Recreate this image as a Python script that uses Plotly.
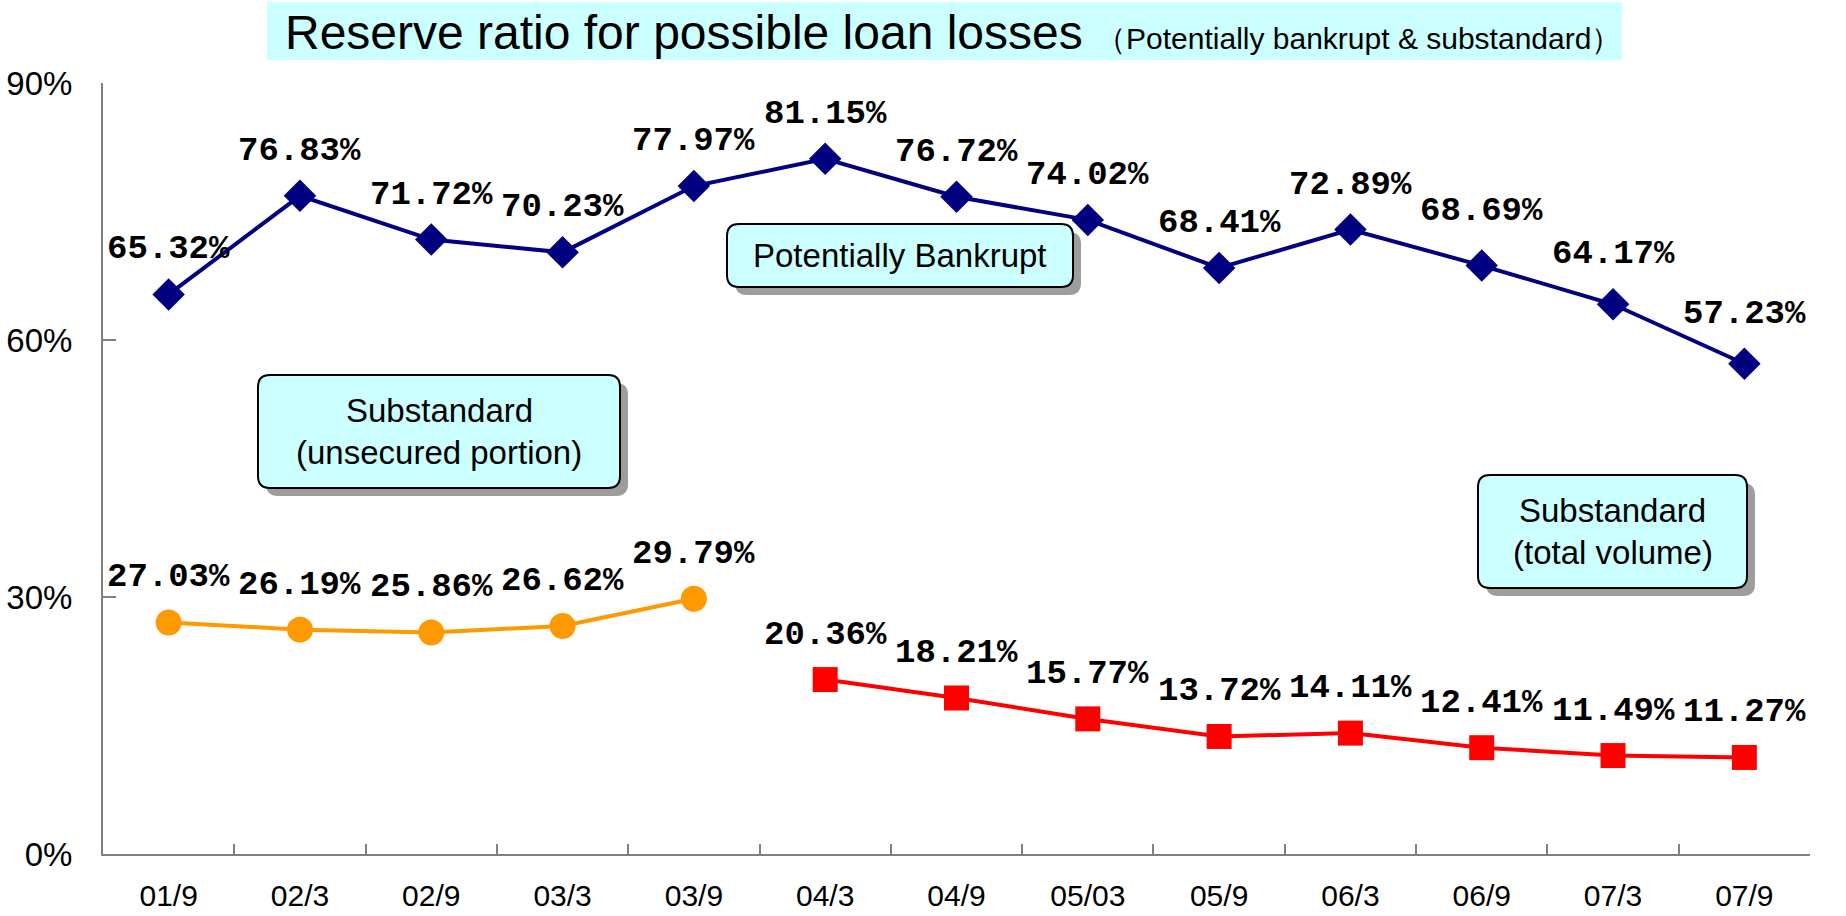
import plotly.graph_objects as go

# Half-year periods
periods = ["01/9", "02/3", "02/9", "03/3", "03/9", "04/3", "04/9",
           "05/03", "05/9", "06/3", "06/9", "07/3", "07/9"]

# Reserve ratios (%)
bankrupt = [65.32, 76.83, 71.72, 70.23, 77.97, 81.15, 76.72,
            74.02, 68.41, 72.89, 68.69, 64.17, 57.23]
sub_unsecured = [27.03, 26.19, 25.86, 26.62, 29.79]          # 01/9 - 03/9
sub_total = [20.36, 18.21, 15.77, 13.72, 14.11, 12.41, 11.49, 11.27]  # 04/3 - 07/9

y_ticks = [0, 30, 60, 90]
y_ticklabels = ["0%", "30%", "60%", "90%"]

W, H = 1846, 916
L, R, T, B = 103, 36, 83, 62
PW, PH = W - L - R, H - T - B

NAVY = "#000080"
ORANGE = "#FF9900"
RED = "#FF0000"
CYAN = "#CCFFFF"
AXIS = "#808080"

LABEL_FONT = dict(family="Liberation Mono, DejaVu Sans Mono", size=34,
                  color="black", weight="bold")
TICK_FONT = dict(family="Liberation Sans, Arial", size=33, color="black")
BOX_FONT = dict(family="Liberation Sans, Arial", size=33, color="black")


def px(x):
    return (x - L) / PW


def py(y):
    return (H - B - y) / PH


def rounded_path(x0, y0, x1, y1, r=12):
    """Rounded rectangle path in paper units from pixel corners."""
    a, b, c, d = px(x0), px(x1), py(y0), py(y1)
    rx, ry = r / PW, r / PH
    return (f"M {a + rx},{c} L {b - rx},{c} Q {b},{c} {b},{c - ry} "
            f"L {b},{d + ry} Q {b},{d} {b - rx},{d} "
            f"L {a + rx},{d} Q {a},{d} {a},{d + ry} "
            f"L {a},{c - ry} Q {a},{c} {a + rx},{c} Z")


fig = go.Figure()

fig.add_trace(go.Scatter(
    x=periods, y=bankrupt, mode="lines+markers", name="Potentially Bankrupt",
    line=dict(color=NAVY, width=4),
    marker=dict(symbol="diamond", size=25, color=NAVY),
))
fig.add_trace(go.Scatter(
    x=periods[:len(sub_unsecured)], y=sub_unsecured, mode="lines+markers",
    name="Substandard (unsecured portion)",
    line=dict(color=ORANGE, width=4),
    marker=dict(symbol="circle", size=26, color=ORANGE),
))
fig.add_trace(go.Scatter(
    x=periods[len(periods) - len(sub_total):], y=sub_total, mode="lines+markers",
    name="Substandard (total volume)",
    line=dict(color=RED, width=4),
    marker=dict(symbol="square", size=25, color=RED),
))

annotations = []
shift_default = 45
label_shift = {("b", 10): 55, ("b", 11): 50, ("b", 12): 50}


def add_labels(key, xs, ys):
    for i, (x, v) in enumerate(zip(xs, ys)):
        annotations.append(dict(
            x=x, y=v, xref="x", yref="y", text=f"{v:.2f}%", showarrow=False,
            yshift=label_shift.get((key, i), shift_default),
            font=LABEL_FONT, xanchor="center", yanchor="middle",
        ))


add_labels("b", periods, bankrupt)
add_labels("o", periods[:len(sub_unsecured)], sub_unsecured)
add_labels("r", periods[len(periods) - len(sub_total):], sub_total)

shapes = []

# Title banner
shapes.append(dict(type="rect", xref="paper", yref="paper",
                   x0=px(267), x1=px(1622), y0=py(60), y1=py(2),
                   fillcolor=CYAN, line=dict(width=0), layer="below"))
annotations.append(dict(
    xref="paper", yref="paper", x=px(283), y=py(32), xanchor="left",
    yanchor="middle", showarrow=False,
    text=("Reserve ratio for possible loan losses "
          "<span style='font-size:30px'>（Potentially bankrupt &amp; substandard）</span>"),
    font=dict(family="Liberation Sans, Arial", size=48, color="black"),
))

# Series callout boxes with drop shadow; each text line placed on its own
boxes = [
    ((258, 375, 620, 488), ["Substandard", "(unsecured portion)"]),
    ((727, 224, 1073, 287), ["Potentially Bankrupt"]),
    ((1478, 475, 1747, 588), ["Substandard", "(total volume)"]),
]
LINE_GAP = 42
for (x0, y0, x1, y1), lines in boxes:
    shapes.append(dict(type="path", xref="paper", yref="paper",
                       path=rounded_path(x0 + 8, y0 + 8, x1 + 8, y1 + 8),
                       fillcolor="#8C8C8C", line=dict(width=0), opacity=0.85))
    shapes.append(dict(type="path", xref="paper", yref="paper",
                       path=rounded_path(x0, y0, x1, y1),
                       fillcolor=CYAN, line=dict(color="black", width=2)))
    cy = (y0 + y1) / 2
    first = cy - LINE_GAP * (len(lines) - 1) / 2
    for k, line in enumerate(lines):
        annotations.append(dict(
            xref="paper", yref="paper", x=px((x0 + x1) / 2),
            y=py(first + k * LINE_GAP), xanchor="center", yanchor="middle",
            showarrow=False, text=line, font=BOX_FONT, align="center",
        ))

fig.update_layout(
    width=W, height=H,
    margin=dict(l=L, r=R, t=T, b=B, autoexpand=False),
    paper_bgcolor="white", plot_bgcolor="white",
    showlegend=False,
    shapes=shapes, annotations=annotations,
    xaxis=dict(
        type="category", range=[-0.5, len(periods) - 0.5], automargin=False,
        showline=True, linecolor=AXIS, linewidth=2,
        ticks="inside", tickson="boundaries", ticklen=10, tickwidth=1.5,
        tickcolor=AXIS, showgrid=False, zeroline=False,
        tickfont=dict(family="Liberation Sans, Arial", size=30, color="black"),
        ticklabelstandoff=14,
    ),
    yaxis=dict(
        range=[0, 90], tickvals=y_ticks, ticktext=y_ticklabels, automargin=False,
        showline=True, linecolor=AXIS, linewidth=2,
        ticks="inside", ticklen=13, tickwidth=1.5, tickcolor=AXIS,
        showgrid=False, zeroline=False, tickfont=TICK_FONT,
        ticklabelstandoff=22,
    ),
)

fig.write_html("out.html")
